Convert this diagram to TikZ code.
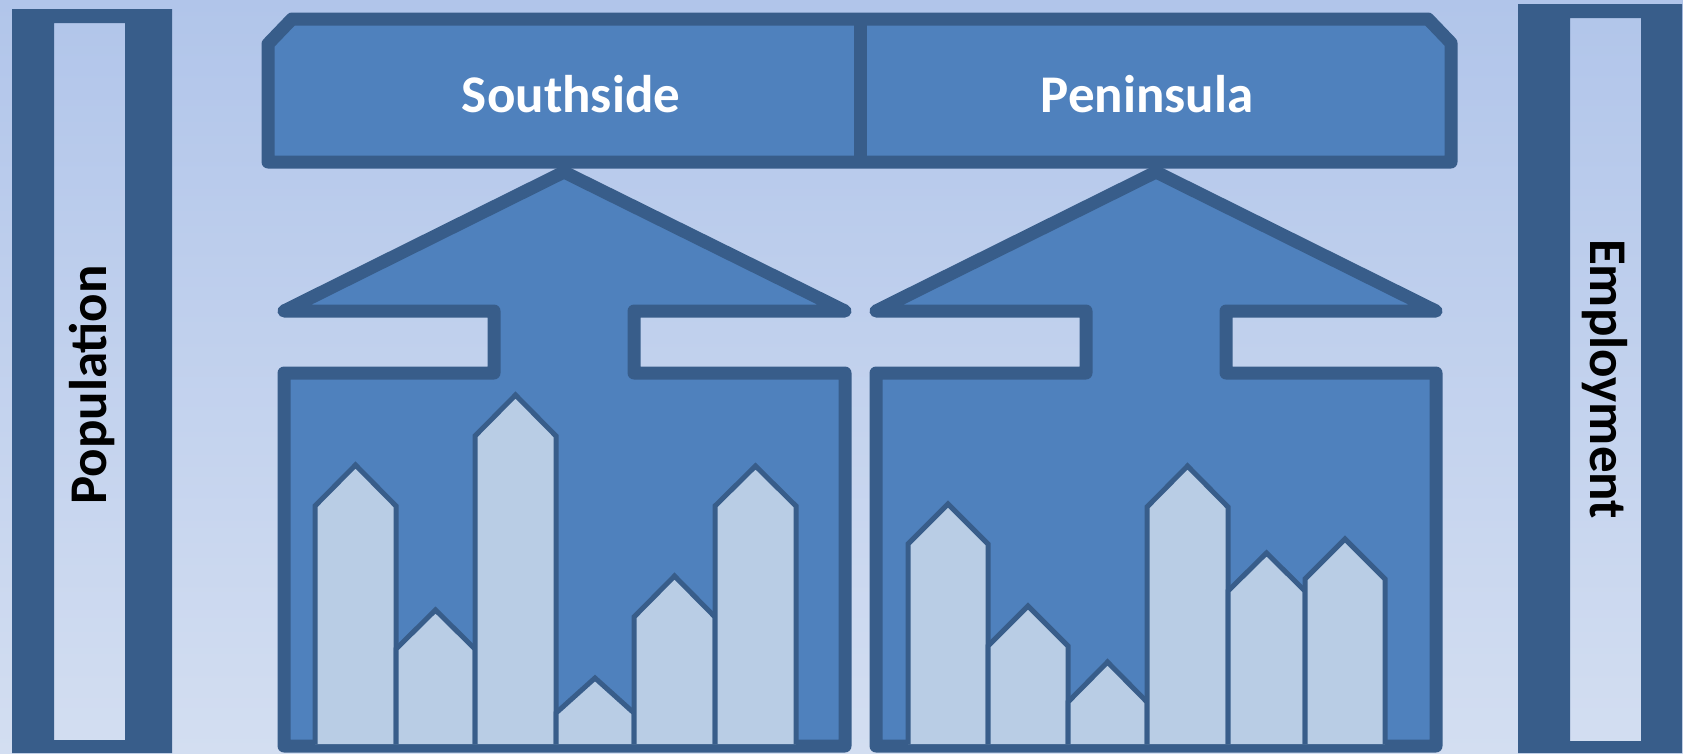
\documentclass[tikz,border=0pt]{standalone}
\usepackage{fontspec}
\setmainfont{Carlito}
\usepackage{tikz}
\usetikzlibrary{positioning}

\definecolor{bgtop}{RGB}{177,197,234}
\definecolor{bgbottom}{RGB}{211,222,241}
\definecolor{darkblue}{RGB}{56,93,138}
\definecolor{midblue}{RGB}{79,129,189}
\definecolor{lightblue}{RGB}{185,205,229}

\begin{document}
\begin{tikzpicture}[x=1pt, y=-1pt]
	\tikzset{
		myshape/.style={fill=midblue, draw=darkblue, line width=13pt, line join=round},
		mybuilding/.style={fill=lightblue, draw=darkblue, line width=5pt},
		mybar/.style={fill=darkblue, even odd rule},
		mylabel/.style={font=\fontsize{53}{60}\selectfont\bfseries, inner sep=0pt}
	}
	\useasboundingbox (0,0) rectangle (1683,753);
	\fill[top color=bgtop, bottom color=bgbottom] (0,0) rectangle (1683,753);

	% side bars
	\fill[mybar] (12,9) rectangle (172,753) (54,23) rectangle (125,740);
	\fill[mybar] (1518,4) rectangle (1682,753) (1570,18) rectangle (1641,741);
	\node[mylabel, rotate=90] (population) at (92,385) {Population};
	\node[mylabel, rotate=-90] (employment) at (1605,379) {Employment};

	% arrows with boxes
	\draw[myshape] (284,746) -- (284,373) -- (494,373) -- (494,311) -- (284,311) -- (564,172)
		-- (845,311) -- (634,311) -- (634,373) -- (845,373) -- (845,746) -- cycle;
	\draw[myshape] (876,746) -- (876,373) -- (1086,373) -- (1086,311) -- (876,311) -- (1156,172)
		-- (1436,311) -- (1226,311) -- (1226,373) -- (1436,373) -- (1436,746) -- cycle;

	% buildings
	\foreach \xa/\xb/\ys/\yp in {315/396/506/465, 396/475/649/610, 475/556/436/395,
		556/634/713/678, 634/715/617/576, 715/796/506/466,
		908/988/544/504, 988/1068/646/606, 1068/1147/702/662,
		1147/1228/507/466, 1228/1305/591/553, 1305/1385/579/539}
		\filldraw[mybuilding] (\xa,744) -- (\xa,\ys) -- ({(\xa+\xb)/2},\yp) -- (\xb,\ys) -- (\xb,744);

	% banner
	\draw[myshape] (268,162) -- (268,44) -- (292,19) -- (1428,19) -- (1451,43) -- (1451,162) -- cycle;
	\draw[myshape] (860,19) -- (860,162);
	\node[mylabel, text=white, anchor=base] (southside) at (571,112) {Southside};
	\node[mylabel, text=white, anchor=base] (peninsula) at (1147,112) {Peninsula};
\end{tikzpicture}
\end{document}
